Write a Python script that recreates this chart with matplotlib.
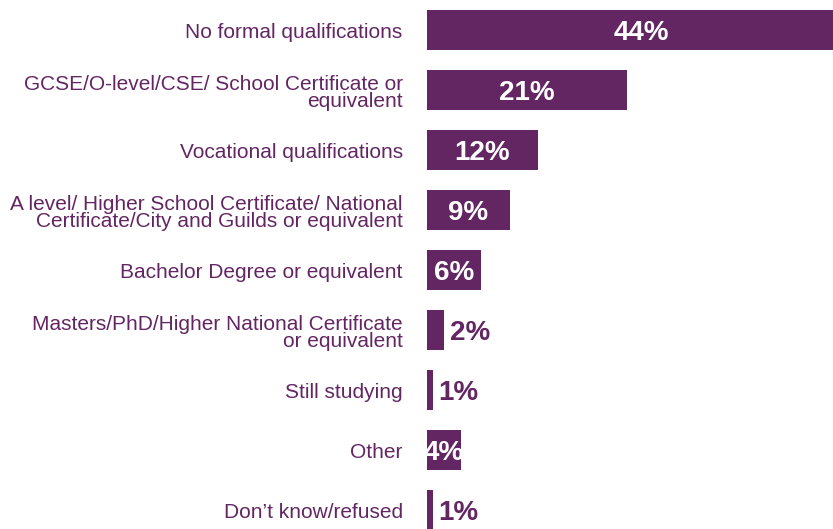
import matplotlib.pyplot as plt

plt.rcParams['font.family'] = ['Liberation Sans', 'DejaVu Sans']

categories = [
    "No formal qualifications",
    "GCSE/O-level/CSE/ School Certificate or\nequivalent",
    "Vocational qualifications",
    "A level/ Higher School Certificate/ National\nCertificate/City and Guilds or equivalent",
    "Bachelor Degree or equivalent",
    "Masters/PhD/Higher National Certificate\nor equivalent",
    "Still studying",
    "Other",
    "Don\u2019t know/refused",
]
values = [44.0, 20.9, 11.6, 8.7, 5.65, 1.8, 0.63, 3.56, 0.63]
pct_labels = ["44%", "21%", "12%", "9%", "6%", "2%", "1%", "4%", "1%"]
label_inside = [True, True, True, True, True, False, False, True, False]

purple = "#632663"

W, H = 833, 529
fig = plt.figure(figsize=(W / 100, H / 100), dpi=100)
# axes in pixel terms: x from 427 to 833, rows 60px tall starting at top
ax = fig.add_axes([427 / W, 1 - 540 / H, (W - 427) / W, 540 / H])

y = list(range(len(categories)))
ax.barh(y, values, height=40 / 60, color=purple, edgecolor="none")
ax.set_xlim(0, (W - 427) / 9.55)
ax.set_ylim(len(categories) - 0.5, -0.5)
ax.axis("off")

for i, (v, lab, inside) in enumerate(zip(values, pct_labels, label_inside)):
    if inside:
        x_txt = v / 2 if v < 42 else 22.4
        ax.annotate(lab, (x_txt, i), xytext=(0, -2), textcoords="offset points",
                    ha="center", va="center", color="white", fontsize=20,
                    fontweight="bold")
    else:
        ax.annotate(lab, (v, i), xytext=(4, -2), textcoords="offset points",
                    ha="left", va="center", color=purple, fontsize=20,
                    fontweight="bold")
    ax.annotate(categories[i], (0, i), xytext=(-17.5, -2), textcoords="offset points",
                ha="right", va="center", color=purple, fontsize=15,
                linespacing=0.9, annotation_clip=False)

fig.savefig("out.png", dpi=100)
